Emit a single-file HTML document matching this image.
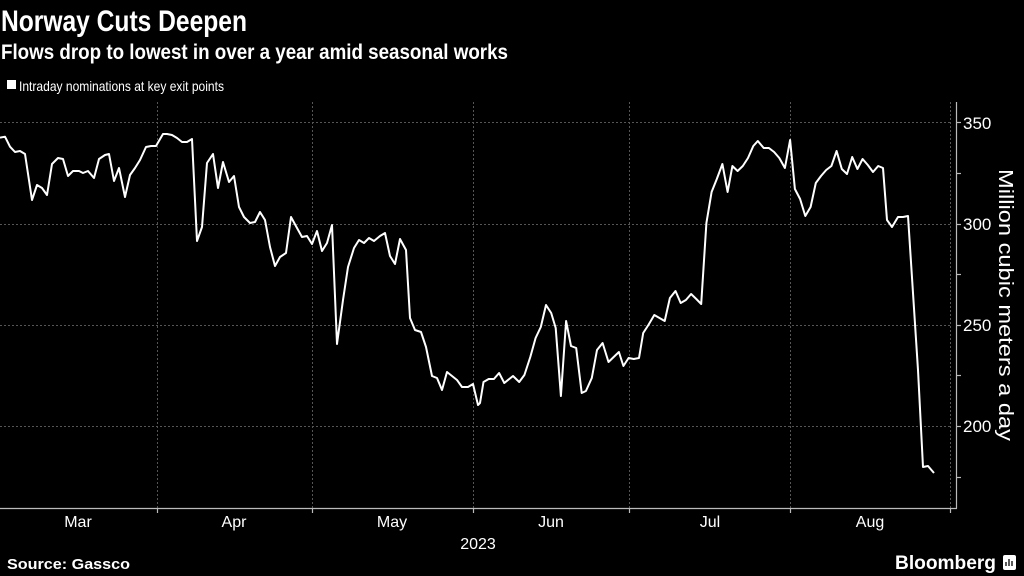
<!DOCTYPE html>
<html><head><meta charset="utf-8"><style>
html,body{margin:0;padding:0;background:#000;width:1024px;height:576px;overflow:hidden}
svg{display:block}
text{fill:#fff}
</style></head><body>
<svg width="1024" height="576" viewBox="0 0 1024 576" xmlns="http://www.w3.org/2000/svg">
<rect width="1024" height="576" fill="#000"/>
<text x="1" y="31" font-family="Liberation Sans Narrow, Liberation Sans, sans-serif" font-weight="bold" font-size="30" textLength="246" lengthAdjust="spacingAndGlyphs">Norway Cuts Deepen</text>
<text x="1" y="59" font-family="Liberation Sans Narrow, Liberation Sans, sans-serif" font-weight="bold" font-size="21" textLength="507" lengthAdjust="spacingAndGlyphs">Flows drop to lowest in over a year amid seasonal works</text>
<rect x="7" y="80" width="9" height="9" fill="#fff"/>
<text x="19" y="91" font-family="Liberation Sans Narrow, Liberation Sans, sans-serif" font-size="14" textLength="205" lengthAdjust="spacingAndGlyphs" fill="#ddd">Intraday nominations at key exit points</text>
<g stroke="#555" stroke-width="1" stroke-dasharray="2,2" fill="none">
<line x1="0" y1="122.5" x2="950" y2="122.5"/>
<line x1="0" y1="224.5" x2="950" y2="224.5"/>
<line x1="0" y1="325.5" x2="950" y2="325.5"/>
<line x1="0" y1="426.5" x2="950" y2="426.5"/>
<line x1="157.5" y1="102" x2="157.5" y2="508"/>
<line x1="312.5" y1="102" x2="312.5" y2="508"/>
<line x1="473.5" y1="102" x2="473.5" y2="508"/>
<line x1="629.5" y1="102" x2="629.5" y2="508"/>
<line x1="790.5" y1="102" x2="790.5" y2="508"/>
<line x1="950.5" y1="102" x2="950.5" y2="508"/>
</g>
<g stroke="#bbb" stroke-width="1.2" fill="none">
<line x1="956.5" y1="102" x2="956.5" y2="508.5"/>
<line x1="0" y1="508.5" x2="957" y2="508.5"/>
<line x1="956" y1="122.5" x2="961" y2="122.5"/>
<line x1="956" y1="173.5" x2="961" y2="173.5"/>
<line x1="956" y1="224.5" x2="961" y2="224.5"/>
<line x1="956" y1="274.5" x2="961" y2="274.5"/>
<line x1="956" y1="325.5" x2="961" y2="325.5"/>
<line x1="956" y1="375.5" x2="961" y2="375.5"/>
<line x1="956" y1="426.5" x2="961" y2="426.5"/>
<line x1="956" y1="477.5" x2="961" y2="477.5"/>
<line x1="157.5" y1="508" x2="157.5" y2="513"/>
<line x1="312.5" y1="508" x2="312.5" y2="513"/>
<line x1="473.5" y1="508" x2="473.5" y2="513"/>
<line x1="629.5" y1="508" x2="629.5" y2="513"/>
<line x1="790.5" y1="508" x2="790.5" y2="513"/>
<line x1="950.5" y1="508" x2="950.5" y2="513"/>
</g>
<g font-family="Liberation Sans Narrow, Liberation Sans, sans-serif" font-size="17">
<text x="963" y="129">350</text>
<text x="963" y="230">300</text>
<text x="963" y="331">250</text>
<text x="963" y="432">200</text>
</g>
<text transform="translate(999,305) rotate(90)" text-anchor="middle" font-family="Liberation Sans, sans-serif" font-size="20" textLength="272" lengthAdjust="spacingAndGlyphs">Million cubic meters a day</text>
<g font-family="Liberation Sans Narrow, Liberation Sans, sans-serif" font-size="16" text-anchor="middle" fill="#ddd">
<text x="78" y="527">Mar</text>
<text x="234" y="527">Apr</text>
<text x="392" y="527">May</text>
<text x="551" y="527">Jun</text>
<text x="710" y="527">Jul</text>
<text x="870" y="527">Aug</text>
<text x="478" y="549">2023</text>
</g>
<text x="7" y="569" font-family="Liberation Sans Narrow, Liberation Sans, sans-serif" font-weight="bold" font-size="15" textLength="123" lengthAdjust="spacingAndGlyphs">Source: Gassco</text>
<text x="895" y="569" font-family="Liberation Sans Narrow, Liberation Sans, sans-serif" font-weight="bold" font-size="19" textLength="101" lengthAdjust="spacingAndGlyphs">Bloomberg</text>
<rect x="1003" y="555" width="13" height="15" rx="2" fill="#fff"/>
<g stroke="#000" stroke-width="1.3"><line x1="1006" y1="566" x2="1006" y2="562"/><line x1="1009" y1="566" x2="1009" y2="559"/><line x1="1012" y1="566" x2="1012" y2="561"/></g>
<polyline fill="none" stroke="#fff" stroke-width="2" stroke-linejoin="round" points="
0,137.7 5,136.7 10,146.7 15,152 20,151 25,154 32,200 37,185 42,188 47,195 52,164 58,158 63,159 68,176 73,171 79,171 83,173 88,171 94,178 99,159 105,155 109,154 114,181 119,168 125,197 130,175 135,168 140,160 146,147 151,146 156,146 163,134 167,134 172,135 177,138 182,142 187,142 192,139 197,241 202,227 207,163 213,154 218,188 223,162 229,182 234,176 239,207 244,217 250,223 255,222 260,212 265,220 270,247 275,266 280,257 286,253 291,217 297,228 302,237 307,236 312,244 317,231 322,251 327,243 332,225 337,344 343,300 348,267 354,248 359,240 364,243 369,238 374,241 380,236 385,233 390,256 395,264 400,239 406,250 410,318 415,330 421,332 426,347 432,376 437,378 442,390 447,372 452,376 457,380 462,387 468,387 473,384 478,405
480,403 483.5,382 488.7,379 493.9,379 499.1,373 504.3,383 513,376 519.2,382 524.4,375 530.3,357 535.6,338 540.8,327 546,305 551.2,313 555.7,328 560.9,396 566.1,321 571,346 576.2,348 581.7,393 585.9,391 591.8,378 597,350 602.6,343 608.5,362 613.7,357 618.9,352 623.4,366 628.6,358 633.8,359 639,358 643.2,333 648.4,325 654.3,315 659.5,318 664.7,321 669.9,298 675.5,291 680.7,303 685.9,300 691.1,294 696.3,299 701.2,304 706.4,223 711.6,192 716.8,179 722.4,164 727.6,192 732.4,166 737.6,171 742.8,166 748,158 753.3,146 757.8,141 763.7,148 768.9,148 774.1,152 779.3,158 784.9,168 790.1,140 794.9,189 800.1,199 805.3,216 810.6,207 815.8,183 821,176 826.2,170 831.4,166 836.6,151 841.8,169 847,174 852.2,157 857.4,169 862.6,159 867.8,165 873,172 878.2,166 883,168 887,220 892,227 898,217 903,217 908,216 918,370 923,467 928,466 934,473"/>
</svg>
</body></html>
